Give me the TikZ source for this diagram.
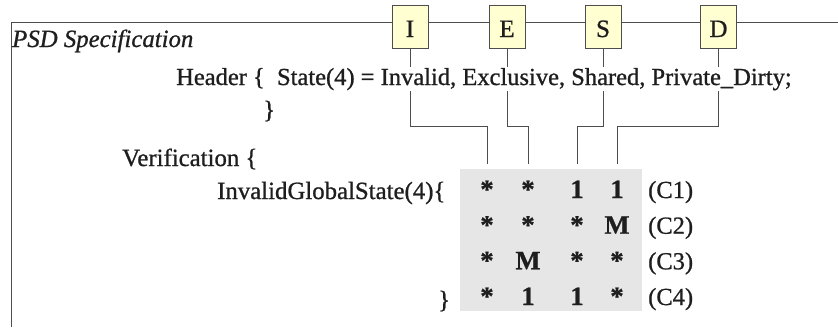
\documentclass[tikz,border=0pt]{standalone}
\usepackage{fontspec}
\setmainfont{Liberation Serif}[FakeBold=0.9]
\definecolor{linegray}{HTML}{4D4D4D}
\definecolor{boxyellow}{HTML}{FFFFD2}
\definecolor{cellgray}{HTML}{E6E6E6}
\definecolor{ink}{HTML}{1E1E1E}

\begin{document}
\begin{tikzpicture}[x=1pt,y=-1pt,
  txt/.style={anchor=base west, inner sep=0pt, text=ink, font=\fontsize{24.8}{30}\selectfont},
  statebox/.style={draw=linegray, line width=0.8pt, fill=boxyellow, text=ink,
    minimum width=36pt, minimum height=43pt, inner sep=0pt,
    text height=21pt, text depth=0pt, font=\fontsize{25}{30}\selectfont},
  wire/.style={draw=linegray, line width=0.8pt},
  cell/.style={anchor=base, inner sep=0pt, text=ink, font=\fontsize{26.5}{30}\selectfont\bfseries},
  tag/.style={anchor=base west, inner sep=0pt, text=ink, font=\fontsize{24.5}{30}\selectfont}]

\useasboundingbox (0,0) rectangle (838,327);

% outer frame (open to the right and bottom)
\draw[wire, line width=1pt] (11,327) -- (11,22) -- (838,22);

% shaded block behind the state vectors
\fill[cellgray] (460,169) rectangle (642,311);

% state boxes on the frame line
\node[statebox] (bI) at (410,26.5) {I};
\node[statebox] (bE) at (507,26.5) {E};
\node[statebox] (bS) at (603,26.5) {S};
\node[statebox] (bD) at (718.5,26.5) {D};

% column heads of the state vectors
\coordinate (c1) at (487,164);
\coordinate (c2) at (528,164);
\coordinate (c3) at (577,164);
\coordinate (c4) at (617,164);

% wires from each state box to its column
\draw[wire] (bI.south) -- ++(0,78) -| (c1);
\draw[wire] (bE.south) -- ++(0,78) -| (c2);
\draw[wire] (bS.south) -- ++(0,78) -| (c3);
\draw[wire] (bD.south) -- ++(0,78) -| (c4);

% specification text
\node[txt, font=\fontsize{24.8}{30}\selectfont\itshape] (title) at (12,47) {PSD Specification};
\node[txt, fill=white, inner ysep=1pt, font=\fontsize{24.5}{30}\selectfont] (hdr) at (176,85)
  {Header \{\ \ State(4) = Invalid, Exclusive, Shared, Private\_Dirty;};
\node[txt] (hclose) at (263,118) {\}};
\node[txt] (ver) at (122,166) {Verification \{};
\node[txt] (igs) at (217,199) {InvalidGlobalState(4)\{};
\node[txt] (vclose) at (438,308) {\}};

% invalid global state vectors
\foreach \r/\y/\a/\b/\c/\d in {1/198/*/*/1/1, 2/233.7/*/*/*/M, 3/269.3/*/M/*/*, 4/305/*/1/1/*} {
  \node[cell] (m\r a) at (487,\y) {\a};
  \node[cell] (m\r b) at (528,\y) {\b};
  \node[cell] (m\r c) at (577,\y) {\c};
  \node[cell] (m\r d) at (617,\y) {\d};
  \node[tag] (t\r) at (648,\y) {(C\r)};
}
\end{tikzpicture}
\end{document}
